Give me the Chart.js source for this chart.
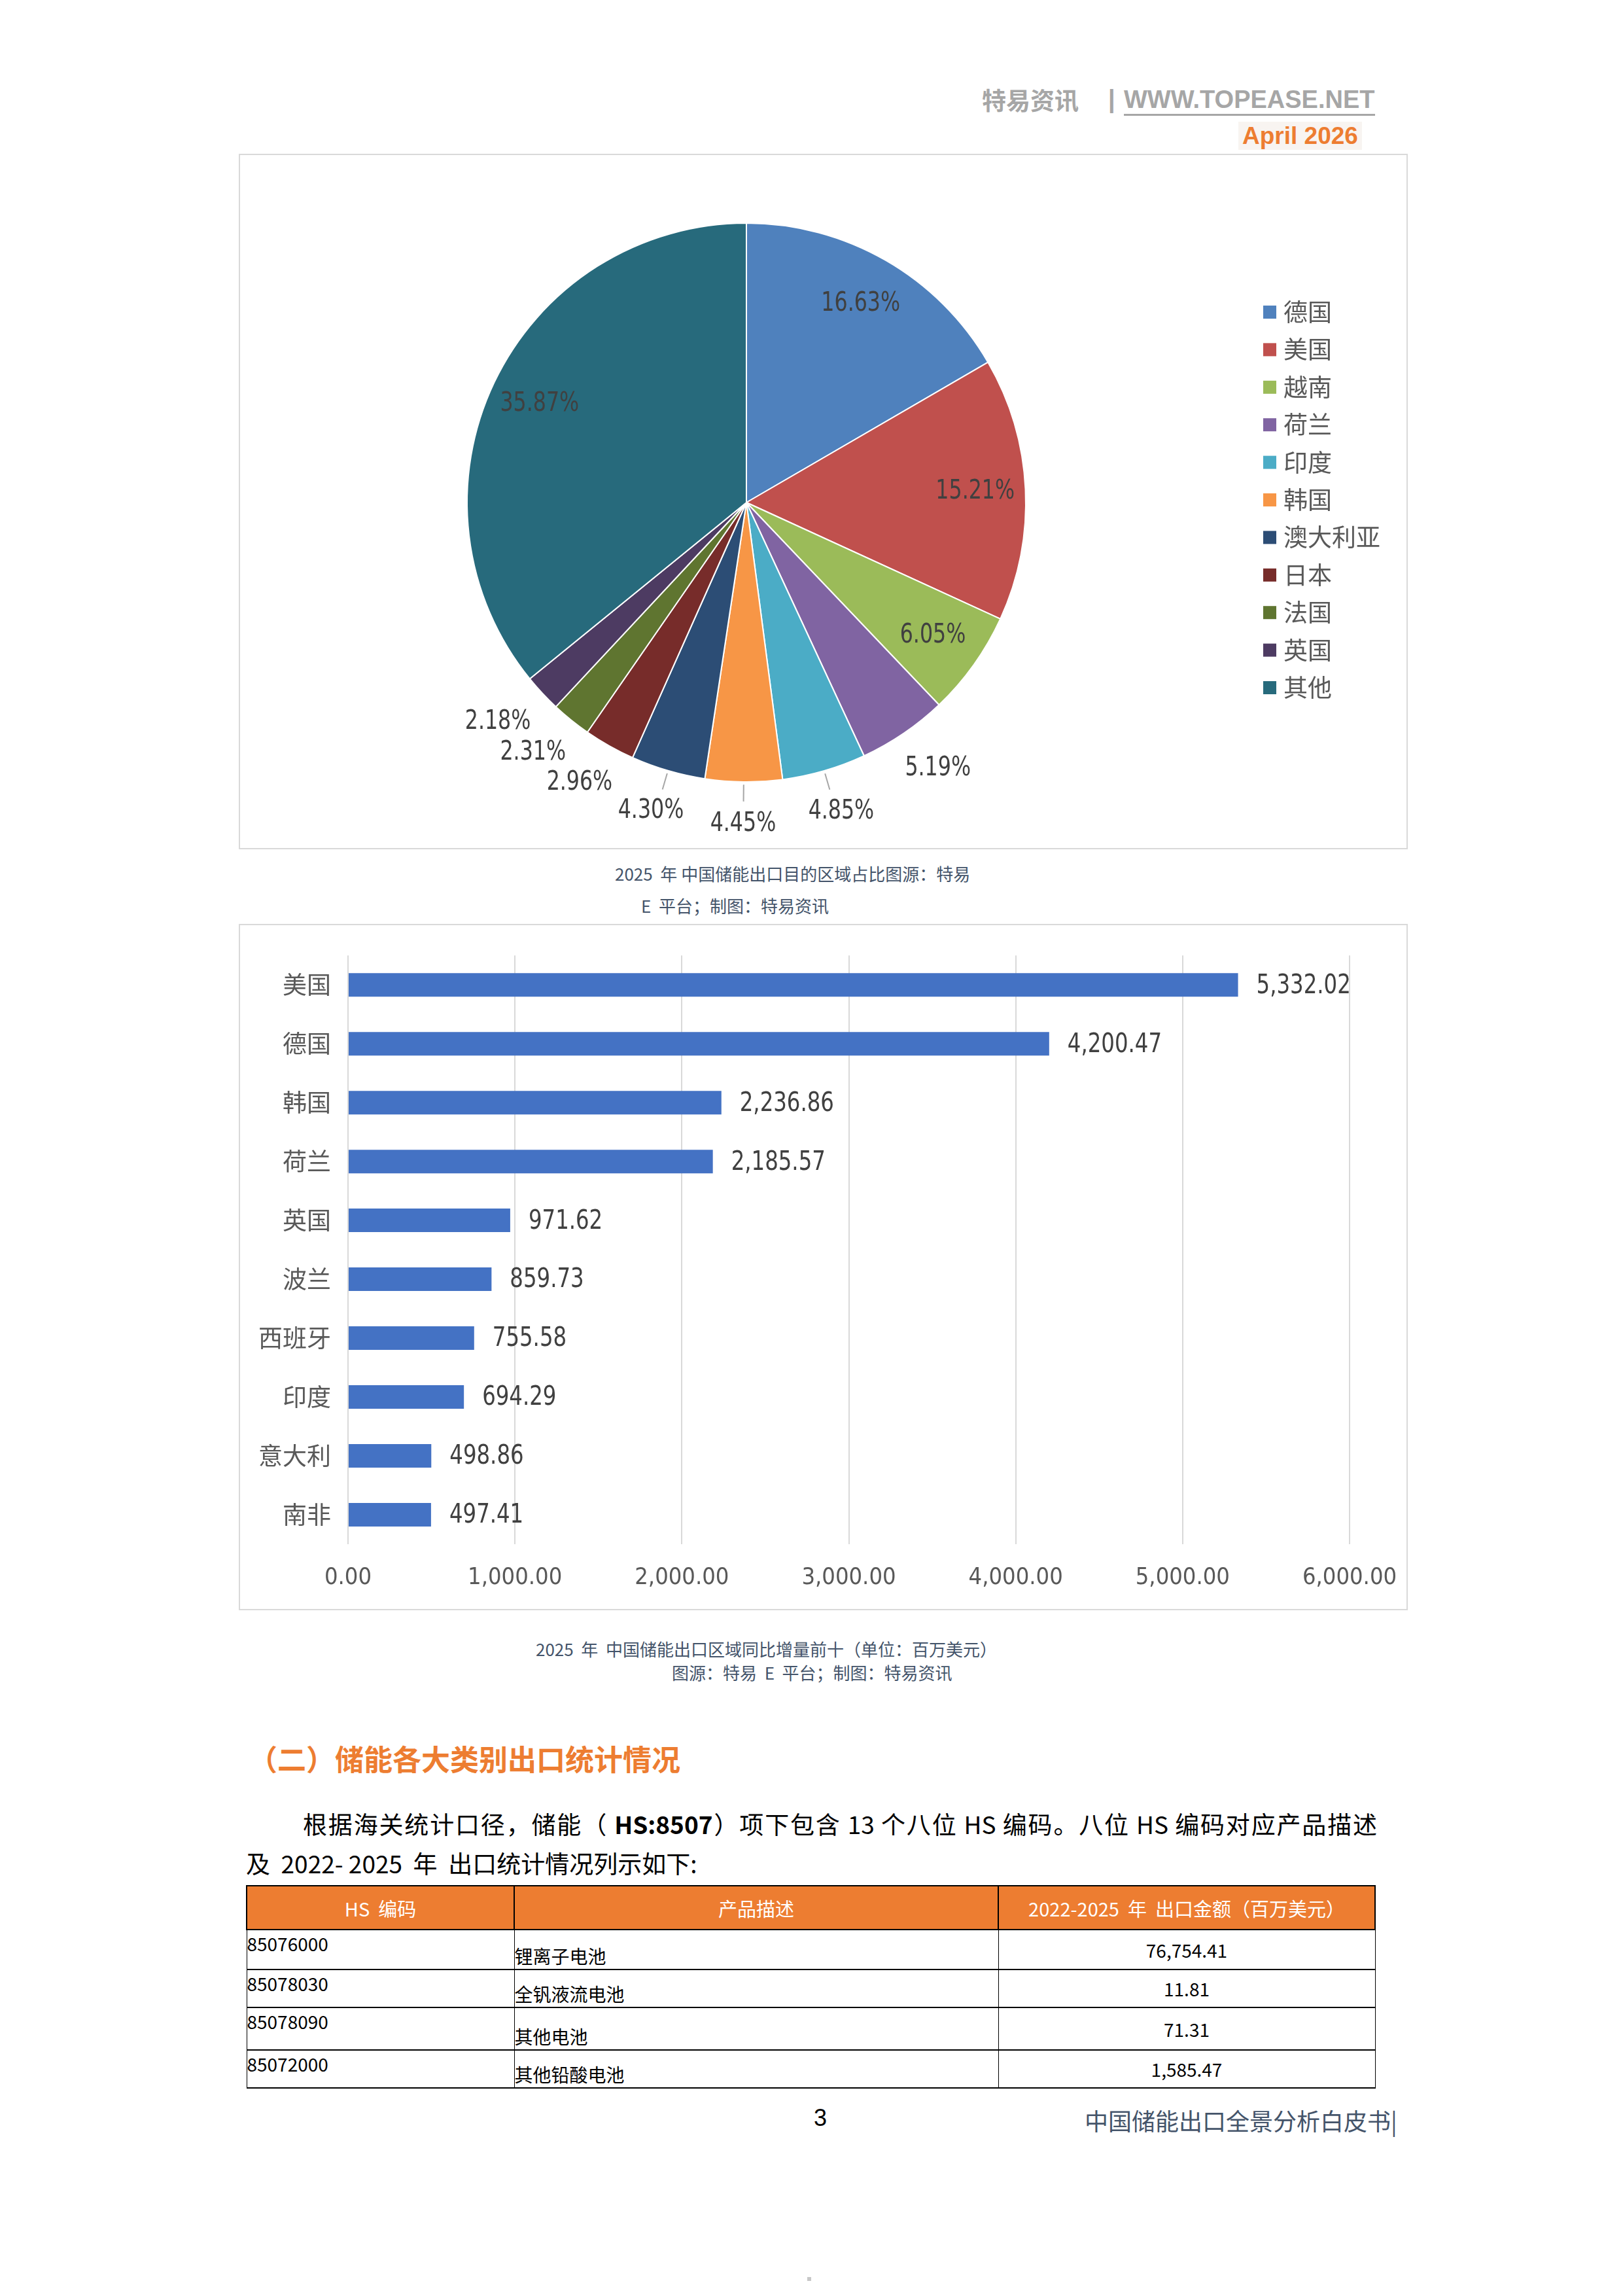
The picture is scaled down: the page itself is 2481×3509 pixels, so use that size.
<!DOCTYPE html>
<html>
<head>
    <meta charset="utf-8">
    <title>中国储能出口全景分析白皮书</title>
    <style>
        body { margin: 0; width: 2481px; height: 3509px; background: #fff; position: relative;
               font-family: "Noto Sans CJK SC", "Noto Sans", sans-serif; }
        .t { position: absolute; white-space: nowrap; line-height: 1; }
        .box { position: absolute; border: 2px solid #d9d9d9; box-sizing: border-box; pointer-events: none; }
        canvas { position: absolute; }
        .cap { color: #44546a; font-size: 26px; }
        table { position: absolute; border-collapse: collapse; font-size: 28px; color: #000; }
        th { background: #ed7d31; color: #fff; font-weight: normal; height: 63px; border: 2px solid #000; font-size: 29px; }
        td { border-left: 1px solid #000; border-right: 1px solid #000; border-bottom: 2px solid #000; padding: 0; }
    </style>
</head>
<body>

    <!-- шапка -->
    <div class="t" style="left:1501px; top:134px; font-size:37px; font-weight:bold; color:#a6a6a6;">特易资讯</div>
    <div class="t" style="left:1694px; top:132px; font-size:38px; font-weight:bold; color:#a6a6a6; font-family:'Liberation Sans';">|</div>
    <div class="t" style="left:1718px; top:133px; font-size:38px; font-weight:bold; color:#a6a6a6; font-family:'Liberation Sans Narrow','Liberation Sans'; border-bottom:3px solid #a6a6a6; padding-bottom:3px;">WWW.TOPEASE.NET</div>
    <div class="t" style="left:1893px; top:186px; font-size:37px; font-weight:bold; color:#ed7d31; font-family:'Liberation Sans'; background:#f8f4f1; padding:3px 6px;">April 2026</div>

    <!-- круговая диаграмма -->
    <canvas id="pieChart" width="1787" height="1063" style="left:365px; top:235px;"></canvas>
    <div class="box" style="left:365px; top:235px; width:1787px; height:1063px;"></div>

    <div class="t cap" style="left:940px; top:1322px;">2025&nbsp; 年 中国储能出口目的区域占比图源：特易</div>
    <div class="t cap" style="left:980px; top:1371px;">E&nbsp; 平台；制图：特易资讯</div>

    <!-- столбчатая диаграмма -->
    <canvas id="barChart" width="1787" height="1049" style="left:365px; top:1412px;"></canvas>
    <div class="box" style="left:365px; top:1412px; width:1787px; height:1049px;"></div>

    <div class="t cap" style="left:819px; top:2507px;">2025&nbsp; 年&nbsp; 中国储能出口区域同比增量前十（单位：百万美元）</div>
    <div class="t cap" style="left:1027px; top:2543px;">图源：特易&nbsp; E&nbsp; 平台；制图：特易资讯</div>

    <!-- текст -->
    <div class="t" style="left:380px; top:2665px; font-size:44px; font-weight:bold; color:#ed7d31;">（二）储能各大类别出口统计情况</div>
    <div class="t" style="left:463px; top:2769px; width:1642px; font-size:37px; color:#000; text-align:justify; text-align-last:justify;">根据海关统计口径，储能（ <b>HS:8507</b>）项下包含 13 个八位 HS 编码。八位 HS 编码对应产品描述</div>
    <div class="t" style="left:376px; top:2829px; font-size:37px; color:#000;">及&nbsp; 2022-&nbsp;2025&nbsp; 年&nbsp; 出口统计情况列示如下:</div>

    <table style="left:376px; top:2881px; width:1727px;">
        <tr><th style="width:405px;">HS&nbsp; 编码</th><th style="width:736px;">产品描述</th><th>2022-2025&nbsp; 年&nbsp; 出口金额（百万美元）</th></tr>
        <tr style="height:61px;"><td style="vertical-align:top;">85076000</td><td style="vertical-align:bottom;">锂离子电池</td><td style="text-align:center;">76,754.41</td></tr>
        <tr style="height:58px;"><td style="vertical-align:top;">85078030</td><td style="vertical-align:bottom;">全钒液流电池</td><td style="text-align:center;">11.81</td></tr>
        <tr style="height:65px;"><td style="vertical-align:top;">85078090</td><td style="vertical-align:bottom;">其他电池</td><td style="text-align:center;">71.31</td></tr>
        <tr style="height:58px;"><td style="vertical-align:top;">85072000</td><td style="vertical-align:bottom;">其他铅酸电池</td><td style="text-align:center;">1,585.47</td></tr>
    </table>

    <!-- подвал -->
    <div class="t" style="left:1244px; top:3219px; font-size:36px; color:#000; font-family:'Liberation Sans';">3</div>
    <div class="t" style="left:1658px; top:3222px; font-size:36px; color:#44546a;">中国储能出口全景分析白皮书|</div>
    <div class="t" style="left:1234px; top:3480px; width:6px; height:6px; background:#c8c8c8;"></div>

    <script src="https://cdn.jsdelivr.net/npm/chart.js"></script>
    <script>
        // данные круговой диаграммы, %
        const pieLabels = ['德国', '美国', '越南', '荷兰', '印度', '韩国', '澳大利亚', '日本', '法国', '英国', '其他'];
        const pieShares = [16.63, 15.21, 6.05, 5.19, 4.85, 4.45, 4.30, 2.96, 2.31, 2.18, 35.87];
        const pieColors = ['#4f81bd', '#c0504d', '#9bbb59', '#8064a2', '#4bacc6', '#f79646',
                           '#2c4d75', '#772c2a', '#5f7530', '#4d3b62', '#276a7c'];

        // данные столбчатой диаграммы, млн USD
        const barLabels = ['美国', '德国', '韩国', '荷兰', '英国', '波兰', '西班牙', '印度', '意大利', '南非'];
        const barValues = [5332.02, 4200.47, 2236.86, 2185.57, 971.62, 859.73, 755.58, 694.29, 498.86, 497.41];
        const xMin = 0, xMax = 6000, xStep = 1000;

        const numFont = '"Liberation Sans Narrow", "DejaVu Sans Condensed", sans-serif';
        const fmt = v => v.toLocaleString('en-US', { minimumFractionDigits: 2, maximumFractionDigits: 2 });

        // текст чуть уже, как Calibri в оригинале
        function narrowText(ctx, text, x, y, k) {
            ctx.save();
            ctx.translate(x, y);
            ctx.scale(k, 1);
            ctx.fillText(text, 0, 0);
            ctx.restore();
        }

        // подписи процентов на секторах
        const pieLabelPlugin = {
            id: 'pieLabelPlugin',
            afterDatasetsDraw(chart) {
                const ctx = chart.ctx;
                const meta = chart.getDatasetMeta(0);
                const k = 0.88;
                ctx.save();
                ctx.font = '40px ' + numFont;
                ctx.fillStyle = '#404040';
                ctx.textAlign = 'center';
                ctx.textBaseline = 'middle';
                meta.data.forEach((arc, i) => {
                    const p = arc.getProps(['x', 'y', 'startAngle', 'endAngle', 'outerRadius'], true);
                    const mid = (p.startAngle + p.endAngle) / 2;
                    const cx = Math.cos(mid), cy = Math.sin(mid);
                    const text = pieShares[i].toFixed(2) + '%';
                    const inside = pieShares[i] > 6;
                    let x, y;
                    if (inside) {
                        x = p.x + cx * p.outerRadius * 0.82;
                        y = p.y + cy * p.outerRadius * 0.82;
                    } else {
                        // ближний угол подписи касается точки за краем сектора
                        const w = ctx.measureText(text).width * k;
                        x = p.x + cx * p.outerRadius * 1.1 + cx * w / 2;
                        y = p.y + cy * p.outerRadius * 1.1 + cy * 22;
                    }
                    // короткие выноски только у нижних секторов
                    if (!inside && Math.abs(mid - Math.PI / 2) < 0.35) {
                        ctx.strokeStyle = '#a6a6a6';
                        ctx.lineWidth = 2;
                        ctx.beginPath();
                        ctx.moveTo(p.x + cx * p.outerRadius * 1.01, p.y + cy * p.outerRadius * 1.01);
                        ctx.lineTo(p.x + cx * p.outerRadius * 1.07, p.y + cy * p.outerRadius * 1.07);
                        ctx.stroke();
                    }
                    narrowText(ctx, text, x, y, k);
                });
                ctx.restore();
            }
        };

        // легенда справа
        const pieLegendPlugin = {
            id: 'pieLegendPlugin',
            afterDraw(chart) {
                const ctx = chart.ctx;
                ctx.save();
                ctx.font = '37px "Noto Sans CJK SC", sans-serif';
                ctx.textBaseline = 'middle';
                pieLabels.forEach((lab, i) => {
                    const y = 242 + i * 57.4;
                    ctx.fillStyle = pieColors[i];
                    ctx.fillRect(1566, y - 10, 20, 20);
                    ctx.fillStyle = '#595959';
                    ctx.fillText(lab, 1597, y);
                });
                ctx.restore();
            }
        };

        new Chart(document.getElementById('pieChart'), {
            type: 'pie',
            data: {
                labels: pieLabels,
                datasets: [{
                    data: pieShares,
                    backgroundColor: pieColors,
                    borderColor: '#ffffff',
                    borderWidth: 2,
                    hoverOffset: 0
                }]
            },
            options: {
                responsive: false,
                animation: false,
                layout: { padding: { left: 347, right: 582, top: 105, bottom: 102 } },
                plugins: { legend: { display: false }, tooltip: { enabled: false } }
            },
            plugins: [pieLabelPlugin, pieLegendPlugin]
        });

        // подписи значений у столбцов
        const barLabelPlugin = {
            id: 'barLabelPlugin',
            afterDatasetsDraw(chart) {
                const ctx = chart.ctx;
                const meta = chart.getDatasetMeta(0);
                ctx.save();
                ctx.font = '40px ' + numFont;
                ctx.fillStyle = '#404040';
                ctx.textAlign = 'left';
                ctx.textBaseline = 'middle';
                meta.data.forEach((bar, i) => {
                    narrowText(ctx, fmt(barValues[i]), bar.x + 28, bar.y + 2, 0.9);
                });
                ctx.restore();
            }
        };

        new Chart(document.getElementById('barChart'), {
            type: 'bar',
            data: {
                labels: barLabels,
                datasets: [{
                    data: barValues,
                    backgroundColor: '#4472c4',
                    barPercentage: 0.4,
                    categoryPercentage: 1.0
                }]
            },
            options: {
                indexAxis: 'y',
                responsive: false,
                animation: false,
                layout: { padding: { left: 0, right: 89, top: 46, bottom: 0 } },
                plugins: { legend: { display: false }, tooltip: { enabled: false } },
                scales: {
                    x: {
                        min: xMin,
                        max: xMax,
                        ticks: {
                            stepSize: xStep,
                            padding: 30,
                            color: '#595959',
                            font: { size: 36, family: numFont },
                            callback: v => fmt(v)
                        },
                        grid: { color: '#d9d9d9', lineWidth: 2, drawTicks: false },
                        border: { display: false },
                        afterFit: s => { s.height = 101; s.paddingLeft = 0; s.paddingRight = 0; }
                    },
                    y: {
                        ticks: {
                            padding: 26,
                            color: '#595959',
                            font: { size: 37, family: '"Noto Sans CJK SC", sans-serif' }
                        },
                        grid: { display: false, drawTicks: false },
                        border: { display: false },
                        afterFit: s => { s.width = 167; }
                    }
                }
            },
            plugins: [barLabelPlugin]
        });
    </script>

</body>
</html>
